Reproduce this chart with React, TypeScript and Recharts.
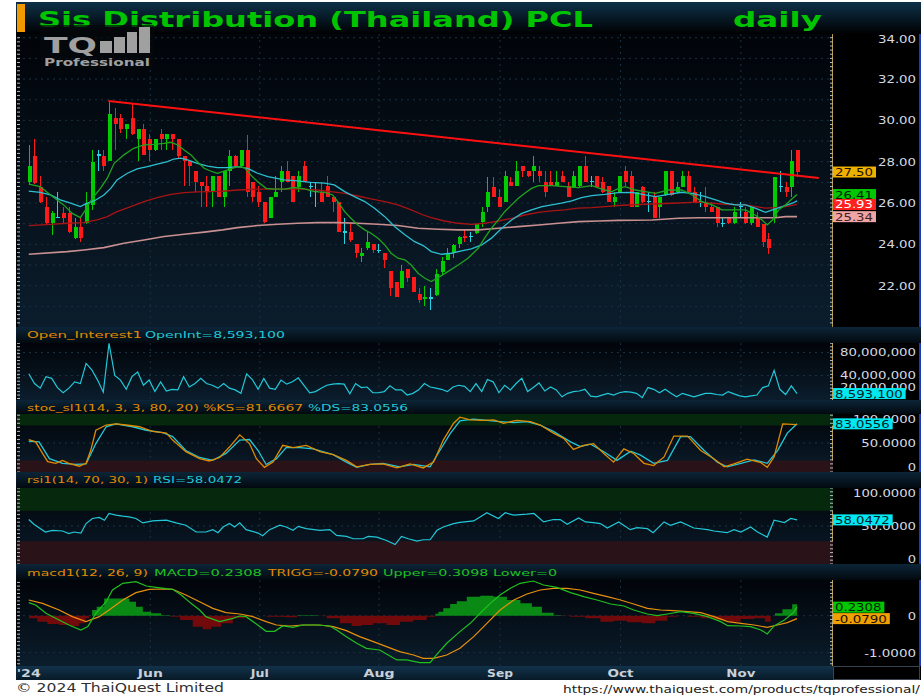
import React from 'react';
import {
  ComposedChart,
  Bar,
  Line,
  Area,
  XAxis,
  YAxis,
  CartesianGrid,
  ReferenceArea,
  ReferenceLine,
} from 'recharts';

const FONT = '"DejaVu Sans", Verdana, sans-serif';

// daily candles [open, high, low, close], early May – mid Nov 2024
const candles: number[][] = [
  [27.0, 28.81, 26.9, 27.8], [28.29, 29.08, 26.9, 26.96], [26.79, 27.31, 26.0, 26.04], [25.79, 26.31, 24.97, 25.02],
  [25.02, 25.6, 24.46, 25.54], [25.3, 26.52, 25.26, 25.3], [25.54, 25.83, 25.02, 25.29], [25.54, 25.83, 24.54, 24.58],
  [24.29, 25.26, 24.26, 24.83], [24.83, 25.26, 24.13, 24.29], [25.02, 26.55, 25.0, 25.99], [25.9, 28.57, 25.66, 28.0],
  [28.33, 28.57, 27.55, 28.33], [28.29, 28.57, 27.55, 27.81], [28.05, 30.94, 28.05, 30.31], [30.1, 30.58, 28.57, 29.83],
  [30.1, 30.31, 29.37, 29.58], [29.58, 29.83, 29.1, 29.83], [30.1, 30.78, 29.3, 29.33], [29.1, 29.6, 28.05, 29.58],
  [29.58, 29.81, 28.3, 28.33], [29.1, 29.33, 28.05, 28.57], [28.57, 29.1, 28.5, 29.1], [29.33, 29.58, 28.57, 29.1],
  [29.1, 29.33, 28.57, 29.33], [29.33, 29.35, 28.57, 29.1], [29.1, 29.1, 28.17, 28.29], [28.29, 28.29, 26.84, 28.05],
  [28.05, 28.1, 26.84, 27.81], [27.55, 27.55, 26.55, 27.0], [27.0, 27.0, 25.83, 26.84], [26.84, 27.3, 25.83, 26.55],
  [26.55, 27.3, 25.83, 27.3], [27.3, 27.3, 26.3, 26.31], [26.31, 27.55, 25.83, 27.55], [27.55, 28.57, 26.84, 28.29],
  [28.29, 28.3, 27.7, 27.79], [27.79, 28.57, 27.7, 28.57], [28.57, 29.29, 26.31, 26.55], [27.04, 27.04, 26.07, 26.31],
  [26.55, 26.84, 25.83, 26.07], [26.07, 26.07, 25.05, 25.07], [25.29, 26.31, 25.29, 26.31], [26.31, 27.29, 26.31, 26.55],
  [27.04, 27.79, 26.55, 27.55], [27.55, 28.05, 27.04, 27.04], [27.29, 27.29, 26.07, 26.07], [26.79, 27.55, 26.55, 27.29],
  [27.79, 28.05, 27.0, 27.04], [26.79, 27.04, 26.31, 26.79], [26.55, 27.04, 25.83, 26.55], [26.55, 27.04, 26.07, 26.07],
  [26.84, 27.29, 26.31, 26.31], [26.31, 26.31, 25.58, 26.07], [26.07, 26.07, 24.59, 24.59], [24.59, 25.29, 24.04, 24.59],
  [24.59, 25.02, 24.13, 24.21], [24.04, 24.04, 23.33, 23.57], [23.45, 23.81, 23.13, 23.57], [23.81, 24.59, 23.73, 24.13],
  [24.04, 24.04, 23.57, 23.71], [23.71, 24.04, 23.57, 23.71], [23.57, 23.57, 22.84, 23.25], [22.71, 22.71, 21.52, 21.91],
  [22.16, 22.16, 21.46, 21.47], [21.91, 23.0, 21.91, 22.71], [22.81, 22.81, 22.2, 22.39], [22.42, 22.42, 21.71, 21.71],
  [21.58, 21.88, 21.17, 21.33], [21.35, 21.99, 21.0, 21.45], [21.4, 21.87, 20.83, 21.4], [21.55, 22.8, 21.5, 22.57],
  [22.68, 23.4, 22.52, 23.21], [23.24, 23.81, 23.24, 23.57], [23.57, 24.02, 23.32, 23.97], [24.0, 24.4, 23.8, 24.37],
  [24.4, 24.7, 24.13, 24.3], [24.37, 24.6, 24.13, 24.37], [24.54, 24.97, 24.5, 24.97], [25.07, 25.83, 24.86, 25.55],
  [25.83, 27.28, 25.58, 26.55], [26.79, 27.28, 26.3, 26.31], [26.31, 26.7, 25.8, 25.83], [26.07, 27.55, 26.05, 27.31],
  [27.04, 27.28, 26.8, 26.84], [26.84, 28.04, 26.8, 27.55], [27.79, 27.8, 27.28, 27.55], [27.55, 27.55, 27.28, 27.31],
  [27.55, 28.29, 27.04, 27.79], [27.55, 27.79, 27.04, 27.31], [27.04, 27.55, 26.31, 26.55], [27.04, 27.55, 26.8, 26.84],
  [26.84, 27.55, 26.8, 27.04], [27.31, 27.55, 27.0, 27.04], [26.84, 27.04, 26.3, 26.31], [26.79, 27.55, 26.75, 27.31],
  [26.84, 27.8, 26.79, 27.79], [27.79, 28.29, 27.0, 27.04], [27.04, 27.31, 26.79, 27.04], [27.31, 27.31, 26.79, 26.79],
  [27.04, 27.28, 26.5, 26.55], [26.84, 26.84, 26.05, 26.07], [26.05, 26.55, 25.83, 26.31], [26.55, 27.31, 26.5, 27.31],
  [27.55, 27.79, 26.84, 27.04], [27.31, 27.55, 25.8, 25.83], [25.83, 26.55, 25.8, 26.55], [26.79, 26.8, 26.0, 26.05],
  [26.07, 26.55, 25.55, 26.07], [26.31, 26.55, 25.29, 25.29], [25.83, 26.31, 25.29, 26.31], [26.39, 27.55, 26.35, 27.55],
  [27.55, 27.55, 26.35, 26.39], [26.55, 27.04, 26.47, 26.79], [26.79, 27.55, 26.79, 27.31], [27.31, 27.55, 26.5, 26.55],
  [26.55, 26.79, 26.0, 26.05], [26.05, 26.55, 25.83, 26.05], [26.05, 26.79, 25.55, 25.83], [25.83, 26.05, 25.55, 25.55],
  [25.83, 25.83, 24.86, 25.02], [25.02, 25.29, 24.86, 25.02], [25.29, 25.29, 24.97, 25.02], [25.02, 25.83, 25.0, 25.55],
  [25.83, 26.05, 25.29, 25.83], [25.55, 25.83, 25.0, 25.02], [25.02, 25.83, 24.94, 25.83], [25.29, 25.55, 24.86, 24.86],
  [24.97, 24.97, 23.89, 24.13], [24.26, 24.54, 23.52, 23.81], [25.29, 27.28, 25.02, 27.28], [26.79, 27.55, 26.55, 26.79],
  [26.79, 27.04, 26.31, 26.55], [26.79, 28.57, 26.31, 28.04], [28.57, 28.57, 27.28, 27.5],
];

// moving averages: [day index, price]
const maFast = [
  [0, 26.91], [2, 26.79], [3.8, 26.39], [6.1, 25.91], [7.6, 25.5], [9, 25.29], [9.9, 25.67], [11.1, 26.23],
  [12.5, 26.71], [13.7, 27.2], [14.9, 27.92], [16.6, 28.33], [18.3, 28.65], [20.1, 28.81], [21.8, 28.84],
  [23.6, 28.89], [24.8, 28.94], [26, 28.81], [27.1, 28.57], [28.3, 28.33], [29.4, 28.0], [30.6, 27.68],
  [31.7, 27.55], [32.9, 27.44], [34.7, 27.6], [36.4, 27.76], [37.6, 27.71], [38.7, 27.36], [39.9, 27.04],
  [41.4, 26.71], [42.8, 26.67], [44.6, 26.67], [46.3, 26.75], [48.1, 26.68], [49.8, 26.55], [51.6, 26.52],
  [53, 26.39], [53.9, 26.07], [55.1, 25.58], [56.2, 25.26], [57.4, 24.94], [58.6, 24.7], [59.7, 24.54],
  [60.9, 24.3], [62.1, 23.97], [63.2, 23.57], [64.4, 23.33], [65.6, 23.25], [66.7, 23.0], [67.9, 22.6],
  [69.1, 22.36], [70.2, 22.2], [71.4, 22.39], [73.1, 22.68], [74.9, 23.0], [76.6, 23.33], [78.4, 23.81],
  [79.5, 24.3], [80.7, 24.78], [81.9, 25.18], [83, 25.58], [84.2, 25.91], [85.4, 26.23], [86.5, 26.47],
  [87.7, 26.71], [88.9, 26.84], [91.2, 26.84], [93.5, 26.79], [95.9, 26.75], [98.2, 26.84], [100.5, 26.63],
  [101.7, 26.55], [102.9, 26.71], [104, 26.79], [105.8, 26.63], [107.5, 26.55], [109.3, 26.47], [111.6, 26.63],
  [113.9, 26.63], [115.7, 26.39], [117.4, 26.07], [119.2, 25.91], [120.9, 25.67], [122.7, 25.67], [125, 25.67],
  [126.7, 25.42], [127.9, 25.18], [128.8, 24.94], [129.7, 25.18], [130.8, 25.67], [132, 25.91], [132.9, 26.15],
  [134, 26.41],
];
const maMid = [
  [0, 26.58], [2, 26.52], [3.8, 26.39], [5.5, 26.15], [7.3, 25.99], [9, 25.83], [10.2, 25.99], [11.4, 26.1],
  [13.1, 26.39], [14.3, 26.71], [15.4, 27.12], [17.2, 27.44], [18.9, 27.65], [20.7, 27.76], [22.4, 27.88],
  [24.2, 28.0], [25.3, 28.13], [26.5, 28.17], [27.7, 28.09], [29.4, 27.92], [31.2, 27.79], [32.9, 27.71],
  [34.7, 27.71], [36.4, 27.76], [38.2, 27.68], [39.9, 27.44], [41.7, 27.28], [44.6, 27.12], [46.9, 27.07],
  [49.2, 27.0], [51.6, 26.96], [53.3, 26.88], [55.1, 26.55], [56.8, 26.31], [58.6, 26.07], [60.3, 25.75],
  [62.1, 25.34], [63.8, 24.86], [65.6, 24.46], [67.3, 24.13], [68.8, 23.94], [70.2, 23.65], [72, 23.52],
  [73.7, 23.57], [75.5, 23.68], [77.2, 23.78], [79, 23.97], [80.7, 24.3], [82.5, 24.78], [84.2, 25.18],
  [86, 25.5], [87.7, 25.67], [89.5, 25.83], [91.2, 25.91], [92.9, 25.99], [94.7, 26.1], [96.4, 26.26],
  [98.2, 26.36], [100.5, 26.42], [102.8, 26.5], [105.2, 26.52], [107.5, 26.39], [109.3, 26.31], [111.6, 26.42],
  [113.9, 26.52], [115.7, 26.47], [118, 26.31], [119.8, 26.15], [121.5, 25.99], [123.2, 25.91], [125, 25.91],
  [126.7, 25.75], [128.5, 25.55], [129.7, 25.67], [131.4, 25.83], [133.2, 25.99], [134, 26.1],
];
const maSlow = [
  [0, 24.91], [3.8, 24.97], [6.7, 25.02], [9.6, 25.05], [11.9, 25.18], [13.7, 25.34], [15.4, 25.58],
  [17.8, 25.83], [20.1, 26.07], [22.4, 26.26], [24.8, 26.42], [27.1, 26.5], [29.4, 26.54], [31.7, 26.55],
  [33.8, 26.57], [36.4, 26.63], [39.9, 26.67], [43.4, 26.67], [46.9, 26.68], [50.4, 26.63], [52.7, 26.55],
  [55.1, 26.47], [57.4, 26.34], [59.7, 26.2], [62.1, 26.07], [64.4, 25.91], [66.7, 25.67], [68.8, 25.42],
  [70.2, 25.29], [72.5, 25.13], [74.9, 25.02], [77.2, 24.97], [79.5, 25.02], [81.9, 25.13], [84.2, 25.26],
  [86.5, 25.42], [88.9, 25.55], [91.2, 25.62], [93.5, 25.67], [95.8, 25.75], [98.2, 25.78], [100.5, 25.83],
  [102.8, 25.88], [107.5, 25.94], [112.2, 25.99], [116.8, 26.04], [121.5, 25.94], [125, 25.91], [128.5, 25.75],
  [130.2, 25.78], [132, 25.83], [134, 25.93],
];
const maLong = [
  [0, 23.52], [6.7, 23.65], [9.6, 23.73], [13.1, 23.84], [16.6, 24.05], [20.1, 24.21], [23.6, 24.38],
  [27.1, 24.49], [30.6, 24.59], [33.8, 24.7], [36.4, 24.81], [39.9, 24.91], [43.4, 24.97], [46.9, 25.02],
  [50.4, 25.05], [53.9, 25.05], [57.4, 25.02], [60.9, 24.97], [64.4, 24.91], [67.9, 24.78], [71.4, 24.73],
  [74.9, 24.7], [78.4, 24.7], [81.9, 24.78], [85.4, 24.86], [88.9, 24.94], [92.4, 25.02], [95.9, 25.1],
  [99.4, 25.13], [102.8, 25.16], [108.7, 25.18], [113.3, 25.26], [116.8, 25.29], [121.5, 25.29], [126.2, 25.29],
  [130.2, 25.29], [132, 25.34], [134, 25.34],
];

// resistance line drawn from the May high
const trendStart = { x: 13.9, y: 30.94 };
const trendEnd = { x: 137.8, y: 27.21 };

// open interest, millions
const openInterest = [
  43, 26, 18, 38, 35, 19, 10, 18, 29, 26, 61, 50, 32, 11, 96, 40, 32, 16, 38, 46,
  23, 32, 12, 29, 13, 16, 15, 38, 20, 26, 35, 26, 23, 18, 26, 18, 15, 9, 43, 33,
  16, 35, 18, 16, 32, 25, 29, 36, 23, 10, 12, 18, 23, 25, 26, 25, 8, 26, 19, 20,
  10, 10, 12, 22, 15, 15, 6, 9, 15, 26, 20, 18, 16, 12, 20, 23, 21, 12, 26, 12,
  33, 29, 10, 23, 15, 26, 35, 12, 19, 27, 13, 20, 15, 3, 9, 12, 13, 16, 4, 3,
  6, 9, 6, 10, 12, 11, 9, 1.5, 19, 16, 10, 16, 9, 3, 9, 6, 3, 6, 9, 9,
  7, 6, 12, 8, 4.5, 3, 4.5, 6, 19, 22, 49, 16, 7, 22, 8.5931,
];

const stochK = [
  [0, 56], [1.2, 52], [2.4, 32], [3.3, 18], [4.7, 15], [5.9, 20], [7, 15], [8.8, 10], [10, 15], [10.8, 37],
  [11.7, 72], [13.5, 81], [15.2, 83], [17, 81], [19.3, 78], [21.6, 70], [24, 67], [25.1, 55], [27.4, 35],
  [29.8, 23], [31.5, 19], [33.3, 25], [35, 43], [36.8, 64], [38.5, 49], [39.7, 23], [41.1, 8], [42.6, 17],
  [44.3, 46], [46.1, 42], [48.4, 46], [50.8, 35], [53.1, 30], [55.4, 20], [57.2, 9], [59.5, 13], [61.8, 14],
  [64.2, 7], [66.5, 14], [68.8, 7], [70.6, 17], [72.3, 55], [74.1, 84], [75.2, 94.5], [77, 90], [79.3, 89],
  [81.1, 90], [82.8, 84], [85.1, 89], [87.5, 87], [89.2, 81], [91.5, 67], [93.3, 58], [95, 39], [96.8, 46],
  [98.5, 49], [100.3, 32], [102, 17], [103.8, 40], [105.5, 32], [107.3, 15], [109, 11], [110.8, 26],
  [112.5, 62], [114.9, 62], [117.2, 37], [119.5, 23], [121.3, 9], [123, 14], [125.3, 22], [127.7, 16],
  [128.8, 8], [130, 26], [131.5, 83], [134, 81.6667],
];
const stochD = [
  [0, 53], [1.8, 52], [3.6, 23], [5.9, 15], [8.2, 13], [10, 14], [11.7, 49], [13.5, 78], [15.2, 83],
  [18.1, 78], [20.5, 72], [23.4, 68], [25.1, 61], [27.4, 37], [29.8, 25], [32.1, 20], [34.4, 32], [36.8, 55],
  [38.5, 56], [40, 37], [41.4, 13], [43.2, 23], [44.9, 42], [47.3, 42], [49.6, 40], [53.1, 30], [55.4, 17],
  [57.2, 8], [59.5, 13], [61.8, 15], [64.7, 9], [67.1, 13], [70, 9], [71.7, 37], [73.5, 66], [75.2, 88],
  [77.6, 91], [79.9, 89], [82.2, 87], [84.6, 85], [86.9, 87], [89.2, 81], [91.5, 70], [94.5, 52], [96.2, 44],
  [98, 48], [100.3, 35], [102.6, 20], [105, 36], [106.7, 29], [109, 15], [111.4, 20], [113.7, 61], [115.4, 61],
  [117.8, 37], [120.1, 17], [121.8, 9], [124.2, 15], [126.5, 21], [128.8, 15], [130.6, 37], [132.3, 67],
  [134, 83.0556],
];

const rsi = [
  [0, 58.5], [0.9, 52.3], [2.9, 42.1], [4.1, 44.3], [5.9, 43.4], [7, 39.9], [7.9, 42.1], [9.1, 40.7], [10, 53.2],
  [11.1, 59.9], [12.3, 61.2], [13.2, 57.6], [14, 66.5], [15.2, 64.3], [16.4, 63], [17.5, 62.1], [18.7, 59.9],
  [19.9, 54.1], [21.6, 56.7], [24, 57.6], [25.7, 54.1], [27.4, 51], [29.2, 42.1], [30.9, 42.1], [32.1, 45.2],
  [33, 41.2], [33.9, 48.7], [35, 53.2], [35.9, 48.7], [36.8, 54.1], [37.9, 45.2], [40, 40.7], [40.8, 37.2],
  [42, 45.2], [43.8, 51], [44.9, 48.7], [46.1, 44.3], [47, 49.6], [48.4, 46.5], [50.8, 44.3], [52.5, 45.2],
  [53.7, 37.6], [55.4, 36.3], [56.6, 33.2], [58.3, 33.2], [59.2, 36.3], [60.7, 35.4], [62.4, 31], [63.9, 25.6],
  [65, 36.3], [66.2, 33.2], [67.7, 30.1], [68.8, 31.9], [70, 31.9], [71.2, 44.3], [72.3, 48.7], [74.1, 53.2],
  [75.2, 54.8], [77.6, 56.7], [79.9, 67.4], [81.9, 59.9], [83.1, 67.4], [84.6, 64.3], [86.9, 65.6], [88.1, 66.5],
  [89.8, 55.4], [91.5, 58.5], [92.7, 58.5], [93.9, 52.3], [95.9, 60.7], [97.1, 55.4], [98.5, 54.5], [99.7, 53.2],
  [100.9, 47.4], [102.9, 55.4], [104.9, 45.2], [106.1, 47.9], [107.9, 46.5], [108.9, 41.2], [110.8, 55.4],
  [111.9, 51], [113.7, 55.4], [116, 47.4], [118.4, 45.2], [119.5, 43.4], [121.8, 41.2], [123, 45.2], [124.2, 42.1],
  [125.9, 48.7], [127.1, 42.1], [128.8, 35.4], [130, 57.6], [131.8, 54.5], [132.9, 59.9], [134, 58.0472],
];

const macdLine = [
  [0, 0.352], [1.2, 0.29], [3, 0.064], [5.3, -0.116], [7, -0.251], [9.1, -0.386], [10.3, -0.296], [11.7, 0.064],
  [13.5, 0.379], [14.6, 0.695], [16.4, 0.875], [18.7, 0.92], [20.5, 0.803], [22.2, 0.767], [24, 0.731],
  [25.1, 0.713], [26.6, 0.56], [28.3, 0.334], [29.8, 0.154], [30.9, -0.026], [33.3, -0.161], [35.6, -0.071],
  [36.8, -0.008], [37.9, -0.026], [39.7, -0.224], [41.4, -0.422], [42.9, -0.422], [44.3, -0.278], [46.1, -0.314],
  [47.8, -0.251], [50.2, -0.251], [52.5, -0.278], [53.7, -0.386], [55.4, -0.566], [57.2, -0.746], [58.9, -0.882],
  [61.2, -0.927], [62.7, -1.062], [64.2, -1.197], [65.9, -1.197], [68.2, -1.269], [70, -1.269], [71.1, -1.062],
  [72.9, -0.746], [75.2, -0.43], [77, -0.206], [78.7, 0.064], [80.5, 0.334], [82.2, 0.56], [84, 0.74],
  [85.7, 0.875], [88, 0.938], [89.8, 0.83], [92.1, 0.767], [94.5, 0.623], [96.8, 0.515], [99.1, 0.424],
  [101.5, 0.316], [103.8, 0.262], [105.5, 0.154], [107.9, 0.046], [109.6, 0.001], [111.4, 0.046], [113.7, 0.109],
  [116, 0.064], [118.4, -0.026], [120.7, -0.161], [121.9, -0.269], [124.2, -0.278], [125.9, -0.296],
  [127.7, -0.386], [128.8, -0.494], [130, -0.278], [131.8, -0.116], [133.4, 0.09], [134, 0.2308],
];
const macdTrigger = [
  [0, 0.424], [2.4, 0.334], [5.3, 0.154], [7.6, -0.026], [10, -0.161], [12.3, -0.026], [14, 0.154], [16.4, 0.424],
  [18.7, 0.623], [21, 0.713], [23.4, 0.722], [25.1, 0.713], [27.4, 0.56], [29.8, 0.379], [32.1, 0.199],
  [34.4, 0.082], [36.8, 0.046], [39.1, -0.026], [41.4, -0.161], [43.2, -0.251], [45.5, -0.278], [47.8, -0.251],
  [50.7, -0.251], [53.1, -0.296], [55.4, -0.404], [57.7, -0.566], [60.1, -0.701], [62.4, -0.837], [64.7, -0.972],
  [67.1, -1.062], [68.8, -1.152], [70.6, -1.152], [72.9, -1.062], [75.2, -0.882], [77.6, -0.566], [79.9, -0.206],
  [82.2, 0.154], [84.6, 0.424], [86.9, 0.587], [89.2, 0.695], [91.5, 0.74], [93.9, 0.74], [96.2, 0.695],
  [98.5, 0.605], [100.9, 0.515], [103.2, 0.424], [105.5, 0.316], [107.9, 0.199], [110.2, 0.154], [112.5, 0.136],
  [114.9, 0.109], [117.2, 0.082], [119.5, -0.026], [121.9, -0.161], [124.2, -0.206], [126.5, -0.251],
  [128.8, -0.314], [130.6, -0.251], [132.3, -0.188], [134, -0.079],
];
const macdHist = [
  [-0.5, 0], [0.6, -0.072], [2.4, -0.162], [4.1, -0.225], [6.5, -0.252], [8.2, -0.279], [9.4, -0.207],
  [10.3, -0.072], [10.7, 0], [11.4, 0.153], [12.3, 0.243], [14, 0.468], [17, 0.468], [18.1, 0.378], [19.3, 0.243],
  [20.5, 0.108], [22.2, 0.063], [24, 0.009], [25.4, -0.027], [27.4, -0.117], [29.8, -0.297], [30.9, -0.369],
  [32.7, -0.297], [34.4, -0.207], [36.8, -0.072], [38.5, -0.009], [39.7, 0], [43.2, -0.027], [46.1, -0.045],
  [47.5, 0.01], [50, 0.01], [50.8, -0.009], [53.1, -0.072], [55.4, -0.207], [57.2, -0.279], [58.9, -0.252],
  [61.2, -0.207], [63.6, -0.252], [65.9, -0.162], [68.2, -0.117], [70.6, -0.027], [71.2, 0.05], [71.7, 0.108],
  [72.9, 0.198], [74.1, 0.315], [75.2, 0.39], [77.6, 0.514], [79.9, 0.541], [82.2, 0.514], [84.6, 0.424],
  [86.9, 0.334], [88.6, 0.243], [90.4, 0.081], [92.7, 0.009], [93.3, -0.009], [95.6, -0.027], [98.5, -0.072],
  [100.9, -0.162], [103.2, -0.135], [105.5, -0.18], [108.4, -0.207], [110.2, -0.135], [112.5, -0.027],
  [113.7, 0], [116, -0.027], [118.4, -0.072], [120.7, -0.117], [123, -0.162], [125.3, -0.09], [127.7, -0.072],
  [129.1, -0.162], [129.7, 0], [130.6, 0.063], [132.3, 0.171], [134, 0.31],
];

const monthTicks = [21.2, 40.3, 61.1, 82.2, 103.2, 124.2];
const monthNames = ['Jun', 'Jul', 'Aug', 'Sep', 'Oct', 'Nov'];
const priceTicks = [22, 24, 26, 28, 30, 32, 34];
const priceGrid = [21, 22, 23, 24, 25, 26, 27, 28, 29, 30, 31, 32, 33, 34];

const X_DOMAIN: [number, number] = [-2.05, 140.27];
const MARGIN = { top: 0, right: 1, bottom: 0, left: 1 };
const GRID = '#1a3244';

const candleRows = candles.map(([o, h, l, c], i) => ({ x: i, o, h, l, c, range: [l, h] }));
const pts = (a: number[][]) => a.map(([x, v]) => ({ x, v }));
const oiRows = openInterest.map((v, i) => ({ x: i, v }));
const histRows = macdHist.map(([x, v]) => ({ x, pos: v > 0 ? v : 0, neg: v < 0 ? v : 0 }));

// unlabeled minor ticks along the panel edges
const steps = (a: number, b: number, s: number) => {
  const r: number[] = [];
  for (let v = a; v <= b + 1e-9; v += s) r.push(+v.toFixed(4));
  return r;
};

const labelWidth = (s: string) => {
  let w = 0;
  for (const ch of s) w += /[0-9]/.test(ch) ? 8.33 : ch === '-' ? 5.5 : 4.67;
  return w;
};

type Box = { v: number; text: string; bg: string; fg: string };
type Lab = { v: number; text: string };

const axisTick = (labels: Lab[], boxes: Box[], h: number) => (p: any) => {
  const y = p.y;
  const v = p.payload.value;
  const b = boxes.find((q) => q.v === v);
  if (b) {
    const w = b.text ? labelWidth(b.text) : 37;
    return (
      <g>
        <rect x={817} y={y - 5.5} width={w + 5} height={11} fill={b.bg} />
        {b.text ? (
          <text x={819} y={y + 4} fontSize={10.5} fill={b.fg} fontFamily={FONT}
            textLength={w} lengthAdjust="spacingAndGlyphs">{b.text}</text>
        ) : null}
      </g>
    );
  }
  const l = labels.find((q) => q.v === v);
  if (!l) return <g />;
  const ty = Math.min(Math.max(y, 5), h - 5);
  return (
    <text x={900} y={ty + 4} textAnchor="end" fontSize={10.5} fill="#d4dae0" fontFamily={FONT}
      textLength={labelWidth(l.text)} lengthAdjust="spacingAndGlyphs">{l.text}</text>
  );
};

const Candle = (p: any) => {
  const { x, y, width, height, payload } = p;
  if (x == null || y == null || !payload) return null;
  const { o, h, l, c } = payload;
  const k = h > l ? height / (h - l) : 0;
  const yo = y + (h - o) * k;
  const yc = y + (h - c) * k;
  const color = c > o ? '#00cc00' : c < o ? '#ff1a1a' : '#22d4e4';
  const cx = Math.round(x + width / 2);
  const top = Math.min(yo, yc);
  const bh = Math.max(Math.abs(yo - yc), 1.5);
  return (
    <g shapeRendering="crispEdges">
      <line x1={cx + 0.5} x2={cx + 0.5} y1={y} y2={y + height} stroke={color} strokeWidth={1} />
      <rect x={cx - 1.5} y={c === o ? top - 0.75 : top} width={4} height={bh} fill={color} />
    </g>
  );
};

const xWidths: Record<string, number> = { "'24": 24, Jun: 25, Jul: 18, Aug: 31, Sep: 26, Oct: 26, Nov: 29 };
const XTick = (p: any) => {
  const v = p.payload.value;
  const i = monthTicks.indexOf(v);
  const t = i < 0 ? "'24" : monthNames[i];
  return (
    <text x={p.x} y={97} textAnchor="middle" fontSize={10} fontWeight="bold" fill="#c8d0d8" fontFamily={FONT}
      textLength={xWidths[t]} lengthAdjust="spacingAndGlyphs">{t}</text>
  );
};

const Txt = ({ x, y, w, size, fill, bold, children, anchor }: any) => (
  <text x={x} y={y} fontSize={size} fill={fill} fontFamily={FONT} fontWeight={bold ? 'bold' : 'normal'}
    textLength={w} lengthAdjust="spacingAndGlyphs" textAnchor={anchor || 'start'}>{children}</text>
);

const edgeAxes = (domain: number[], ticks: number[]) => [
  <YAxis key="el" yAxisId="el" orientation="left" width={1} mirror domain={domain} allowDataOverflow
    ticks={ticks} interval={0} tick={() => <g />} tickSize={3} tickLine={{ stroke: '#b4bcc6' }} axisLine={false} />,
  <YAxis key="er" yAxisId="er" orientation="right" width={1} mirror domain={domain} allowDataOverflow
    ticks={ticks} interval={0} tick={() => <g />} tickSize={3} tickLine={{ stroke: '#b4bcc6' }} axisLine={false} />,
];

const ORANGE = '#e08a00';
const CYAN = '#22c8d8';
const GREEN = '#20c020';

export default function App() {
  const panels = [
    { top: 34, h: 293 },
    { top: 343, h: 57 },
    { top: 414, h: 58 },
    { top: 488, h: 76 },
    { top: 580, h: 86 },
  ];
  const titleBars = [
    { top: 327, h: 16 },
    { top: 400, h: 14 },
    { top: 472, h: 16 },
    { top: 564, h: 16 },
  ];

  const mainTick = axisTick(
    priceTicks.map((v) => ({ v, text: v.toFixed(2) })),
    [
      { v: 26.12, text: '', bg: '#20d8e8', fg: '#000' },
      { v: 26.41, text: '26.41', bg: '#00c800', fg: '#002000' },
      { v: 25.93, text: '25.93', bg: '#ff2020', fg: '#fff' },
      { v: 25.34, text: '25.34', bg: '#f0a4a4', fg: '#402020' },
      { v: 27.5, text: '27.50', bg: '#f0b000', fg: '#201000' },
    ],
    293,
  );
  const oiTick = axisTick(
    [{ v: 80, text: '80,000,000' }, { v: 40, text: '40,000,000' }, { v: 20, text: '20,000,000' }],
    [{ v: 8.5931, text: '8,593,100', bg: '#00e8f0', fg: '#002028' }],
    57,
  );
  const stochTick = axisTick(
    [{ v: 100, text: '100.0000' }, { v: 50, text: '50.0000' }, { v: 0, text: '0' }],
    [{ v: 83.0556, text: '83.0556', bg: '#00e8f0', fg: '#002028' }],
    58,
  );
  const rsiTick = axisTick(
    [{ v: 100, text: '100.0000' }, { v: 50, text: '50.0000' }, { v: 0, text: '0' }],
    [{ v: 58.0472, text: '58.0472', bg: '#00e8f0', fg: '#002028' }],
    76,
  );
  const macdTick = axisTick(
    [{ v: 0, text: '0' }, { v: -1, text: '-1.0000' }],
    [
      { v: 0.2308, text: '0.2308', bg: '#00c800', fg: '#002000' },
      { v: -0.079, text: '-0.0790', bg: '#f0a000', fg: '#201000' },
    ],
    86,
  );

  const xHidden = <XAxis dataKey="x" type="number" domain={X_DOMAIN} allowDataOverflow hide />;

  return (
    <div style={{ position: 'absolute', left: 0, top: 0, width: 922, height: 698, background: '#fff', overflow: 'hidden' }}>
      <svg width={922} height={698} style={{ position: 'absolute', left: 0, top: 0 }}>
        <defs>
          <linearGradient id="gTitle" x1="0" y1="0" x2="0" y2="1">
            <stop offset="0" stopColor="#0e3149" />
            <stop offset="1" stopColor="#000204" />
          </linearGradient>
          <linearGradient id="gPlot" x1="0" y1="0" x2="0" y2="1">
            <stop offset="0" stopColor="#010409" />
            <stop offset="1" stopColor="#0b1d2c" />
          </linearGradient>
          <linearGradient id="gBar" x1="0" y1="0" x2="0" y2="1">
            <stop offset="0" stopColor="#0c2538" />
            <stop offset="1" stopColor="#02090f" />
          </linearGradient>
          <linearGradient id="gAxis" x1="0" y1="0" x2="0" y2="1">
            <stop offset="0" stopColor="#12324a" />
            <stop offset="1" stopColor="#081a28" />
          </linearGradient>
        </defs>
        <rect x={16} y={2} width={905} height={678} fill="#000" />
        <rect x={16} y={2} width={905} height={31} fill="url(#gTitle)" />
        <rect x={17} y={4} width={8} height={28} fill="#f09a00" />
        {panels.map((p, i) => (
          <g key={i}>
            <rect x={18} y={p.top} width={814} height={p.h} fill="url(#gPlot)" />
            <rect x={833} y={p.top} width={86} height={p.h} fill="#000" />
            <line x1={832.5} x2={832.5} y1={p.top} y2={p.top + p.h} stroke="#b8983c" />
            <line x1={920} x2={920} y1={p.top} y2={p.top + p.h} stroke="#1c3cc0" strokeWidth={2} />
          </g>
        ))}
        {titleBars.map((b, i) => (
          <rect key={i} x={16} y={b.top} width={905} height={b.h} fill="url(#gBar)" />
        ))}
        <rect x={16} y={666} width={817} height={14} fill="url(#gAxis)" />
        <rect x={833.5} y={666.5} width={86} height={13} fill="#000" stroke="#3a4450" />
      </svg>

      <div style={{ position: 'absolute', left: 16, top: 34 }}>
        <ComposedChart width={905} height={293} data={candleRows} margin={MARGIN}>
          {xHidden}
          {edgeAxes([20, 34.18], steps(20.2, 34, 0.2))}
          <YAxis orientation="right" width={87} domain={[20, 34.18]} allowDataOverflow interval={0}
            ticks={[...priceTicks, 26.12, 26.41, 25.93, 25.34, 27.5]} tick={mainTick}
            tickLine={false} axisLine={false} />
          <CartesianGrid horizontalValues={priceGrid} verticalValues={monthTicks} stroke={GRID} strokeDasharray="2 4" />
          <Bar dataKey="range" barSize={4} shape={(p: any) => <Candle {...p} />} isAnimationActive={false} />
          <Line data={pts(maLong)} dataKey="v" stroke="#c89090" strokeWidth={1.6} dot={false} isAnimationActive={false} />
          <Line data={pts(maSlow)} dataKey="v" stroke="#a81414" strokeWidth={1.3} dot={false} isAnimationActive={false} />
          <Line data={pts(maMid)} dataKey="v" stroke="#2cc0d0" strokeWidth={1.3} dot={false} isAnimationActive={false} />
          <Line data={pts(maFast)} dataKey="v" stroke="#20a420" strokeWidth={1.3} dot={false} isAnimationActive={false} />
          <ReferenceLine segment={[trendStart, trendEnd]} stroke="#ff1010" strokeWidth={2} />
        </ComposedChart>
      </div>

      <div style={{ position: 'absolute', left: 16, top: 343 }}>
        <ComposedChart width={905} height={57} data={oiRows} margin={MARGIN}>
          {xHidden}
          {edgeAxes([-2.6, 96.5], steps(0, 96, 6))}
          <YAxis orientation="right" width={87} domain={[-2.6, 96.5]} allowDataOverflow interval={0}
            ticks={[80, 40, 20, 8.5931]} tick={oiTick} tickLine={false} axisLine={false} />
          <CartesianGrid horizontalValues={[40, 80]} verticalValues={monthTicks} stroke={GRID} strokeDasharray="2 4" />
          <Line dataKey="v" stroke={CYAN} strokeWidth={1.2} dot={false} isAnimationActive={false} />
        </ComposedChart>
      </div>

      <div style={{ position: 'absolute', left: 16, top: 414 }}>
        <ComposedChart width={905} height={58} margin={MARGIN}>
          {xHidden}
          {edgeAxes([0, 100], steps(0, 98, 7))}
          <YAxis orientation="right" width={87} domain={[0, 100]} allowDataOverflow interval={0}
            ticks={[100, 50, 0, 83.0556]} tick={stochTick} tickLine={false} axisLine={false} />
          <ReferenceArea y1={80} y2={100} fill="#06280c" fillOpacity={1} />
          <ReferenceArea y1={0} y2={20} fill="#2a1219" fillOpacity={1} />
          <CartesianGrid horizontalValues={[50]} verticalValues={monthTicks} stroke={GRID} strokeDasharray="2 4" />
          <Line data={pts(stochD)} dataKey="v" stroke={CYAN} strokeWidth={1.3} dot={false} isAnimationActive={false} />
          <Line data={pts(stochK)} dataKey="v" stroke={ORANGE} strokeWidth={1.3} dot={false} isAnimationActive={false} />
        </ComposedChart>
      </div>

      <div style={{ position: 'absolute', left: 16, top: 488 }}>
        <ComposedChart width={905} height={76} margin={MARGIN}>
          {xHidden}
          {edgeAxes([0, 100], steps(0, 100, 5))}
          <YAxis orientation="right" width={87} domain={[0, 100]} allowDataOverflow interval={0}
            ticks={[100, 50, 0, 58.0472]} tick={rsiTick} tickLine={false} axisLine={false} />
          <ReferenceArea y1={70} y2={100} fill="#06280c" fillOpacity={1} />
          <ReferenceArea y1={0} y2={30} fill="#2a1219" fillOpacity={1} />
          <CartesianGrid horizontalValues={[50]} verticalValues={monthTicks} stroke={GRID} strokeDasharray="2 4" />
          <Line data={pts(rsi)} dataKey="v" stroke={CYAN} strokeWidth={1.2} dot={false} isAnimationActive={false} />
        </ComposedChart>
      </div>

      <div style={{ position: 'absolute', left: 16, top: 580 }}>
        <ComposedChart width={905} height={100} margin={MARGIN}>
          <XAxis dataKey="x" type="number" domain={X_DOMAIN} allowDataOverflow height={14}
            ticks={[0, ...monthTicks]} interval={0} tick={XTick} tickLine={false} axisLine={false} />
          {edgeAxes([-1.36, 0.965], steps(-1.3, 0.9, 0.1))}
          <YAxis orientation="right" width={87} domain={[-1.36, 0.965]} allowDataOverflow interval={0}
            ticks={[0, -1, 0.2308, -0.079]} tick={macdTick} tickLine={false} axisLine={false} />
          <CartesianGrid horizontalValues={[0, -1]} verticalValues={monthTicks} stroke={GRID} strokeDasharray="2 4" />
          <Area data={histRows} dataKey="pos" type="step" baseValue={0} fill="#0a8a14" fillOpacity={1} stroke="none" isAnimationActive={false} />
          <Area data={histRows} dataKey="neg" type="step" baseValue={0} fill="#720a0c" fillOpacity={1} stroke="none" isAnimationActive={false} />
          <Line data={pts(macdTrigger)} dataKey="v" stroke="#e8900c" strokeWidth={1.2} dot={false} isAnimationActive={false} />
          <Line data={pts(macdLine)} dataKey="v" stroke={GREEN} strokeWidth={1.2} dot={false} isAnimationActive={false} />
        </ComposedChart>
      </div>

      <svg width={922} height={698} style={{ position: 'absolute', left: 0, top: 0, pointerEvents: 'none' }}>
        <Txt x={38} y={27.3} w={555} size={21.5} fill="#00c400" bold>Sis Distribution (Thailand) PCL</Txt>
        <Txt x={733} y={27.3} w={89} size={21.5} fill="#00c400" bold>daily</Txt>

        <rect x={40} y={25} width={114} height={44} fill="#05080b" opacity={0.7} />
        <Txt x={44} y={53} w={53} size={22} fill="#a0a0a0" bold>TQ</Txt>
        <rect x={100} y={41} width={12} height={12} fill="#a0a0a0" />
        <rect x={114} y={37} width={11} height={16} fill="#a0a0a0" />
        <rect x={127} y={32} width={10} height={21} fill="#a0a0a0" />
        <rect x={139} y={27} width={11} height={26} fill="#a0a0a0" />
        <Txt x={44} y={65.5} w={106} size={11} fill="#a0a0a0" bold>Professional</Txt>

        <Txt x={27} y={337.5} w={115} size={9.5} fill={ORANGE}>Open_Interest1</Txt>
        <Txt x={145} y={337.5} w={140} size={9.5} fill={CYAN}>OpenInt=8,593,100</Txt>

        <Txt x={27} y={410.5} w={276} size={9.5} fill={ORANGE}>stoc_sl1(14, 3, 3, 80, 20) %KS=81.6667</Txt>
        <Txt x={308} y={410.5} w={100} size={9.5} fill={CYAN}>%DS=83.0556</Txt>

        <Txt x={27} y={483} w={121} size={9.5} fill={ORANGE}>rsi1(14, 70, 30, 1)</Txt>
        <Txt x={153} y={483} w={89} size={9.5} fill={CYAN}>RSI=58.0472</Txt>

        <Txt x={27} y={575.5} w={121} size={9.5} fill={ORANGE}>macd1(12, 26, 9)</Txt>
        <Txt x={154} y={575.5} w={108} size={9.5} fill={GREEN}>MACD=0.2308</Txt>
        <Txt x={268} y={575.5} w={110} size={9.5} fill={ORANGE}>TRIGG=-0.0790</Txt>
        <Txt x={383} y={575.5} w={174} size={9.5} fill={GREEN}>Upper=0.3098 Lower=0</Txt>

        <Txt x={16} y={692} w={208} size={11.5} fill="#303030">© 2024 ThaiQuest Limited</Txt>
        <Txt x={563} y={692.5} w={357} size={11} fill="#202020">https://www.thaiquest.com/products/tqprofessional/</Txt>
      </svg>
    </div>
  );
}
